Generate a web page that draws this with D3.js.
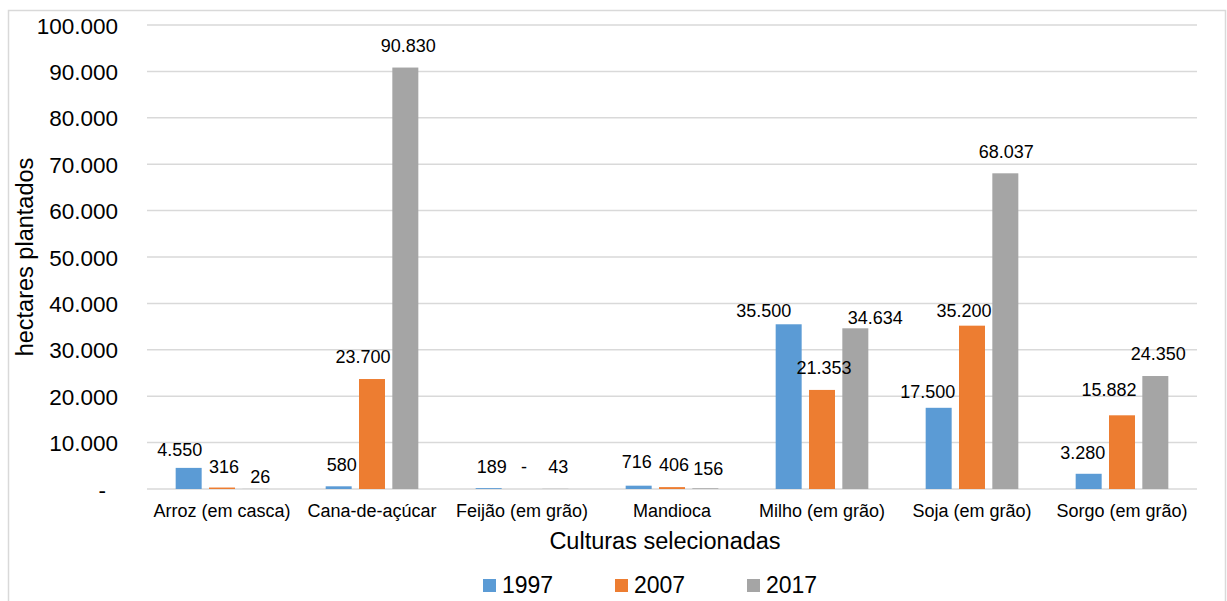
<!DOCTYPE html>
<html>
<head>
<meta charset="utf-8">
<script src="https://cdn.jsdelivr.net/npm/d3@7"></script>
<style>
  html, body { margin: 0; padding: 0; background: #fff; }
  svg text { font-family: "Liberation Sans", Arial, sans-serif; fill: #000; }
</style>
</head>
<body>
<svg id="chart" width="1227" height="601"></svg>
<script>
// Crop areas (hectares planted) per census year
const categories = ["Arroz (em casca)", "Cana-de-açúcar", "Feijão (em grão)", "Mandioca",
                    "Milho (em grão)", "Soja (em grão)", "Sorgo (em grão)"];
const years = ["1997", "2007", "2017"];
const values1997 = [4550, 580, 189, 716, 35500, 17500, 3280];
const values2007 = [316, 23700, 0, 406, 21353, 35200, 15882];
const values2017 = [26, 90830, 43, 156, 34634, 68037, 24350];
const yTicks = [0, 10000, 20000, 30000, 40000, 50000, 60000, 70000, 80000, 90000, 100000];

// Hand placement of individual value labels: [dx, dy] per category, per year
const labelNudge = [
  [[-9, 4], [2, 1], [5, 10]],
  [[3, 1], [-9, 0], [3, 0]],
  [[3, 1], [2, 0], [3, 0]],
  [[-2, -2], [2, 0], [3, 3]],
  [[-25, 9], [2, 0], [20, 12]],
  [[-11, 6], [-8, 7], [1, 1]],
  [[-6, 1], [-13, -3], [3, 0]]
];

const colors = ["#5B9BD5", "#ED7D31", "#A5A5A5"];
const seriesValues = [values1997, values2007, values2017];

const svg = d3.select("#chart");

// outer frame
svg.append("rect")
  .attr("x", 8.5).attr("y", 10.5)
  .attr("width", 1217).attr("height", 620)
  .attr("fill", "none").attr("stroke", "#D9D9D9").attr("stroke-width", 1.5);

const plot = { left: 147, right: 1197, top: 25, bottom: 489 };

const x0 = d3.scaleBand().domain(categories).range([plot.left, plot.right]).padding(0);
const x1 = d3.scaleBand().domain(years).range([0, x0.bandwidth()])
  .paddingInner(0.22).paddingOuter(0.86);
const y = d3.scaleLinear().domain([0, 100000]).range([plot.bottom, plot.top]);

const fmt = v => v === 0 ? "-" : d3.format(",")(v).replace(/,/g, ".");

// gridlines
svg.append("g").selectAll("line").data(yTicks).join("line")
  .attr("x1", plot.left).attr("x2", plot.right)
  .attr("y1", d => y(d)).attr("y2", d => y(d))
  .attr("stroke", "#D9D9D9").attr("stroke-width", 1.5);

// y axis tick labels
const yAxis = d3.axisLeft(y).tickValues(yTicks).tickSize(0).tickPadding(0)
  .tickFormat(fmt);
const yg = svg.append("g").attr("transform", `translate(118,0)`).call(yAxis);
yg.select(".domain").remove();
yg.selectAll("text")
  .attr("font-size", "22.5px")
  .attr("font-family", "Liberation Sans, Arial, sans-serif")
  .attr("fill", "#000")
  .attr("dy", "0.36em")
  .attr("x", d => d === 0 ? -12 : 0);

// x axis category labels
const xAxis = d3.axisBottom(x0).tickSize(0).tickPadding(0);
const xg = svg.append("g").attr("transform", `translate(0,${plot.bottom})`).call(xAxis);
xg.select(".domain").remove();
xg.selectAll("text")
  .attr("font-size", "18px")
  .attr("font-family", "Liberation Sans, Arial, sans-serif")
  .attr("fill", "#000")
  .attr("y", 28).attr("dy", 0);

// bars
const rows = categories.map((c, i) => ({
  cat: c, idx: i,
  vals: years.map((yr, s) => ({ year: yr, s, v: seriesValues[s][i] }))
}));

const groups = svg.append("g").selectAll("g").data(rows).join("g")
  .attr("transform", d => `translate(${x0(d.cat)},0)`);

groups.selectAll("rect").data(d => d.vals).join("rect")
  .attr("x", d => x1(d.year))
  .attr("y", d => y(d.v))
  .attr("width", x1.bandwidth())
  .attr("height", d => plot.bottom - y(d.v))
  .attr("fill", d => colors[d.s]);

// value labels
groups.each(function (row) {
  d3.select(this).selectAll("text").data(row.vals).join("text")
    .attr("x", d => x1(d.year) + x1.bandwidth() / 2 + labelNudge[row.idx][d.s][0])
    .attr("y", d => y(d.v) - 16 + labelNudge[row.idx][d.s][1])
    .attr("text-anchor", "middle")
    .attr("font-size", "18px")
    .text(d => fmt(d.v));
});

// axis titles
svg.append("text")
  .attr("x", 665).attr("y", 549)
  .attr("text-anchor", "middle")
  .attr("font-size", "23.5px")
  .text("Culturas selecionadas");

svg.append("text")
  .attr("transform", `translate(33,${(plot.top + plot.bottom) / 2}) rotate(-90)`)
  .attr("text-anchor", "middle")
  .attr("font-size", "23.5px")
  .text("hectares plantados");

// legend
const legend = svg.append("g").selectAll("g").data(years).join("g")
  .attr("transform", (d, i) => `translate(${483 + i * 132},579)`);
legend.append("rect")
  .attr("width", 13).attr("height", 13)
  .attr("fill", (d, i) => colors[i]);
legend.append("text")
  .attr("x", 19).attr("y", 14)
  .attr("font-size", "23px")
  .text(d => d);
</script>
</body>
</html>
